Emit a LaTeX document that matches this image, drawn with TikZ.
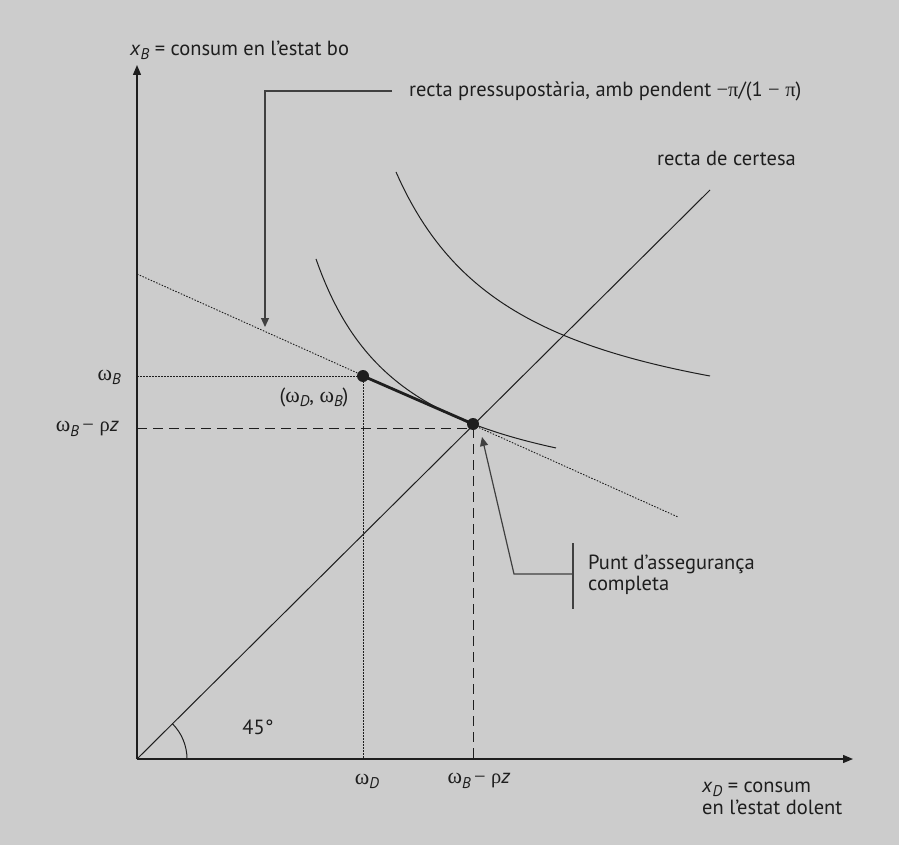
\documentclass[tikz,border=0pt]{standalone}
\usepackage{fontspec}
\setmainfont{PT Sans}
\newfontfamily\gk{Liberation Serif}
\usetikzlibrary{arrows.meta,calc}
\definecolor{bg}{HTML}{CCCCCC}
\definecolor{ink}{HTML}{1E1E1E}
\newcommand{\sbx}[1]{\raisebox{-0.4ex}{\fontsize{15.5}{15.5}\selectfont\itshape #1}}
\newcommand{\om}{{\gk\fontsize{22}{22}\selectfont ω}}
\begin{document}
\begin{tikzpicture}[x=1pt,y=-1pt,
  lbl/.style={inner sep=0pt, font=\fontsize{20.5}{20.5}\selectfont, text=ink},
  ax/.style={draw=ink, line width=1.3pt, -{Triangle[length=10pt,width=8pt]}},
  ln/.style={draw=ink, line width=1pt},
  dotline/.style={draw=ink, line width=0.9pt, dash pattern=on 1.5pt off 1.5pt},
  dashline/.style={draw=ink, line width=1pt, dash pattern=on 10pt off 6pt},
  thickseg/.style={draw=ink, line width=2.8pt},
  pt/.style={circle, fill=ink, minimum size=12pt, inner sep=0pt},
  callout/.style={draw=ink!85, line width=1.2pt, -{Triangle[length=9pt,width=8pt]}}]
\useasboundingbox (0,0) rectangle (899,845);
\fill[bg] (0,0) rectangle (899,845);

% axes
\coordinate (O) at (137,759);
\coordinate (ytip) at (137,65);
\coordinate (xtip) at (853,759);
\draw[ax] (O) -- (ytip);
\draw[ax] (O) -- (xtip);
\node[lbl, anchor=west] (ylab) at (130,50) {\textit{x}\sbx{B} = consum en l’estat bo};
\node[lbl, anchor=base west] (xlab1) at (702,792) {\textit{x}\smash{\sbx{D}} = consum};
\node[lbl, anchor=base west] (xlab2) at (702,814) {en l’estat dolent};

% certainty line and angle
\coordinate (c2) at (710,190);
\draw[ln] (O) -- (c2);
\draw[ln] ($(O)+(50,0)$) arc[start angle=0, end angle=-45, radius=50];
\node[lbl] (a45) at (258,727) {45°};
\node[lbl, anchor=west] (cert) at (657,158) {recta de certesa};

% budget line
\coordinate (b1) at (137,274);
\coordinate (b2) at (678,517);
\draw[dotline] (b1) -- (b2);

% indifference curves
\draw[ln] plot[domain=316:556, samples=80] (\x, {519.7 - 237.53/((\x-224.9)/100)});
\draw[ln] plot[domain=396:710, samples=80] (\x, {457.6 - 358.72/((\x-270.4)/100)});

% points
\node[pt] (E) at (363,376) {};
\node[pt] (F) at (473,424) {};
\coordinate (yB) at (137,376);
\coordinate (xD) at (363,759);
\draw[dotline] (yB) -- (E.center) -- (xD);
\coordinate (yR) at (137,428);
\coordinate (cR) at (473,428);
\coordinate (xR) at (473,759);
\draw[dashline] (yR) -- (cR) -- (xR);
\draw[thickseg] (E.center) -- (F.center);

% tick labels
\node[lbl, anchor=east] (lwB) at (121,377) {\om\sbx{B}};
\node[lbl, anchor=east] (lwBr) at (119,429) {\om\sbx{B}\,{\gk −} {\gk ρ}\textit{z}};
\node[lbl] (lwD) at (367,781) {\om\sbx{D}};
\node[lbl] (lwBx) at (479,781) {\om\sbx{B}\,{\gk −} {\gk ρ}\textit{z}};
\node[lbl] (EP) at (314,397) {(\om\sbx{D}, \om\sbx{B})};

% budget callout
\coordinate (bc1) at (392,91);
\coordinate (bc2) at (265,91);
\coordinate (bc3) at (265,327);
\draw[callout] (bc1) -- (bc2) -- (bc3);
\node[lbl, anchor=west] (btext) at (409,91) {recta pressupostària, amb pendent {\gk −π}/(1 {\gk −} {\gk π})};

% full insurance callout
\coordinate (p1) at (573,574);
\coordinate (p2) at (514,574);
\coordinate (p3) at (482,437);
\draw[callout] (p1) -- (p2) -- (p3);
\coordinate (bar1) at (573,543);
\coordinate (bar2) at (573,609);
\draw[draw=ink!85, line width=1.2pt] (bar1) -- (bar2);
\node[lbl, anchor=base west] (ptext1) at (588,569) {Punt d’assegurança};
\node[lbl, anchor=base west] (ptext2) at (588,590) {completa};
\end{tikzpicture}
\end{document}
